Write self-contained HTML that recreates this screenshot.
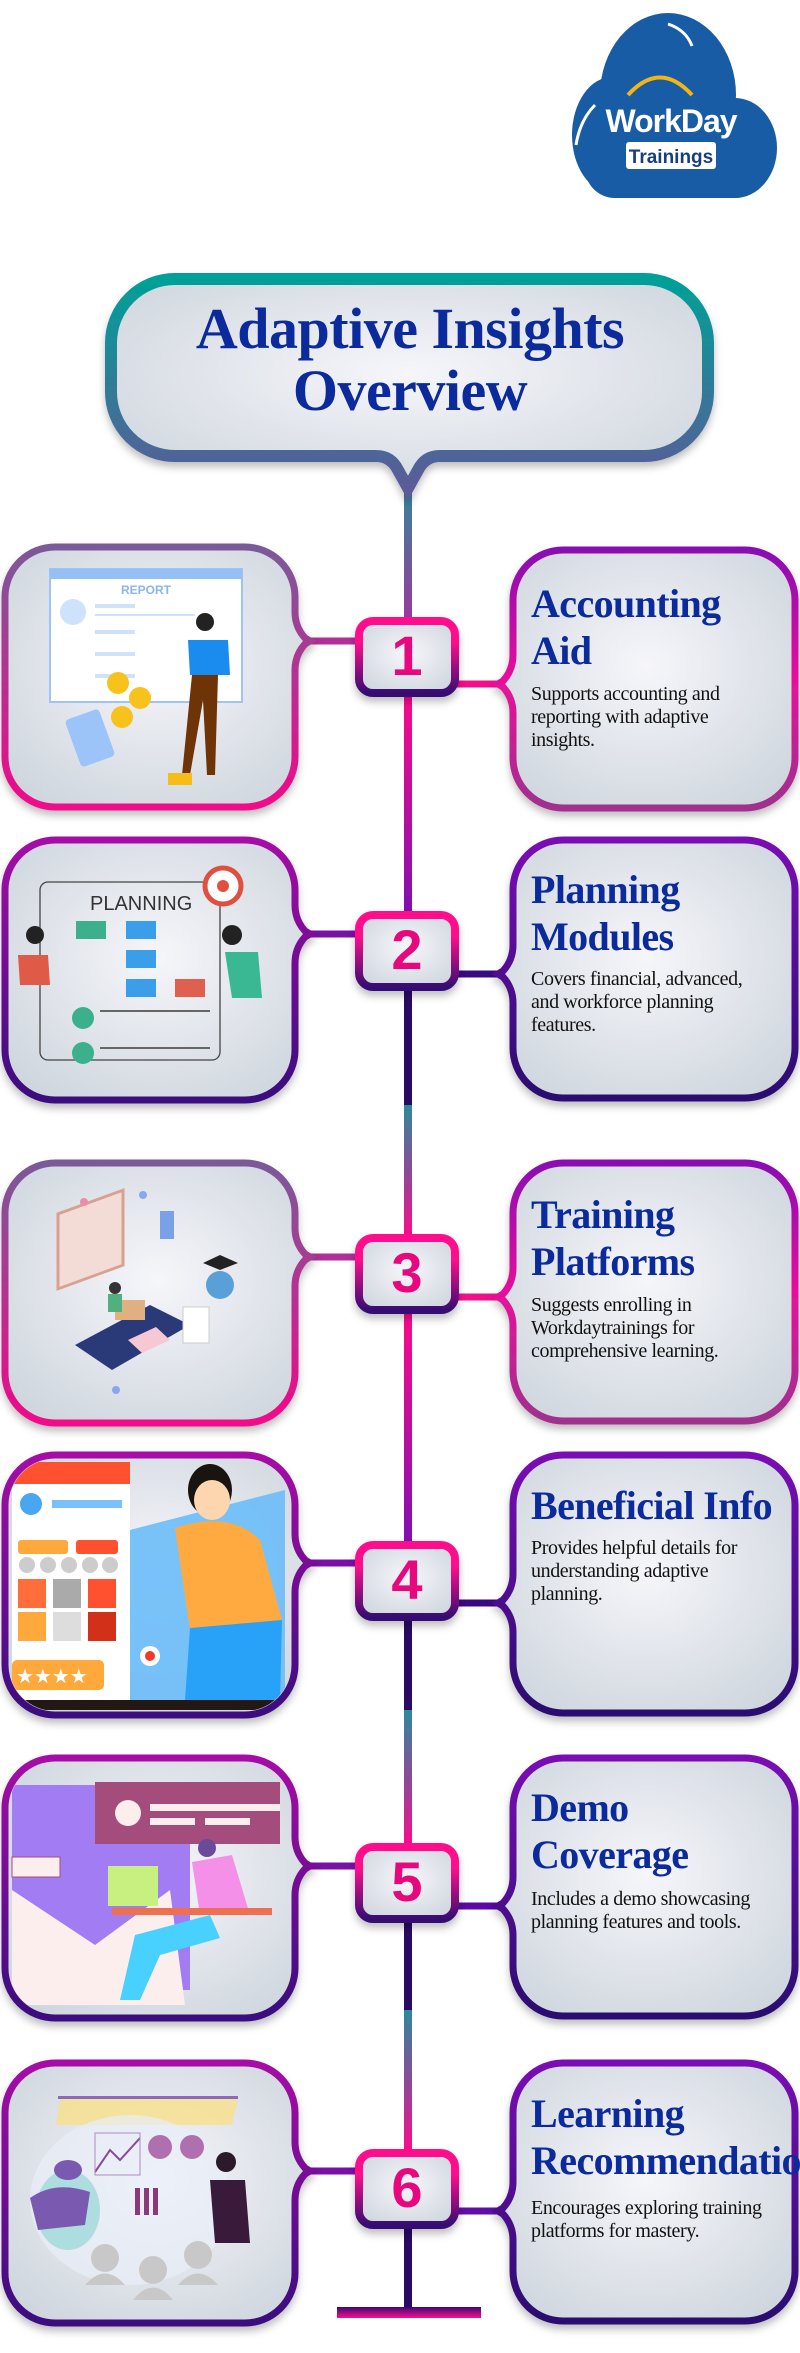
<!DOCTYPE html>
<html><head><meta charset="utf-8">
<style>
html,body{margin:0;padding:0;background:#fff;}
body{width:800px;height:2353px;position:relative;overflow:hidden;font-family:"Liberation Serif",serif;}
svg{position:absolute;left:0;top:0;}
.h{position:absolute;color:#0b2a9c;font-weight:bold;font-size:40px;line-height:47px;letter-spacing:-0.6px;white-space:nowrap;}
.b{position:absolute;color:#111;font-size:20px;line-height:23px;letter-spacing:-0.4px;width:240px;}
.t{position:absolute;left:105px;width:610px;text-align:center;color:#0b2a9c;font-weight:bold;font-size:58px;line-height:62px;top:298px;letter-spacing:-0.5px;}
.n{position:absolute;width:102px;text-align:center;font-family:"Liberation Sans",sans-serif;font-weight:bold;font-size:56px;color:#e8087e;}
</style></head><body>
<svg width="800" height="2353" viewBox="0 0 800 2353" xmlns="http://www.w3.org/2000/svg">
<defs>
<radialGradient id="fill" cx="50%" cy="45%" r="65%"><stop offset="0" stop-color="#f6f6fa"/><stop offset="1" stop-color="#cfd6de"/></radialGradient>
<linearGradient id="tb" x1="0" y1="0" x2="0" y2="1"><stop offset="0" stop-color="#00a098"/><stop offset="1" stop-color="#5c5a98"/></linearGradient>
<linearGradient id="gA" x1="0" y1="0" x2="0" y2="1"><stop offset="0" stop-color="#7a5a98"/><stop offset="1" stop-color="#f0088a"/></linearGradient>
<linearGradient id="gAr" x1="0" y1="0" x2="0" y2="1"><stop offset="0" stop-color="#8a0cb4"/><stop offset="0.5" stop-color="#e8109a"/><stop offset="1" stop-color="#a0308e"/></linearGradient>
<linearGradient id="gB" x1="0" y1="0" x2="0" y2="1"><stop offset="0" stop-color="#a60aa6"/><stop offset="1" stop-color="#3a0a7e"/></linearGradient>
<linearGradient id="gBr" x1="0" y1="0" x2="0" y2="1"><stop offset="0" stop-color="#7a10b4"/><stop offset="1" stop-color="#2a0870"/></linearGradient>
<linearGradient id="num" x1="0" y1="0" x2="0" y2="1"><stop offset="0.3" stop-color="#ff0a8c"/><stop offset="1" stop-color="#340a72"/></linearGradient>
<linearGradient id="l1" x1="0" y1="0" x2="0" y2="1"><stop offset="0" stop-color="#2e8a9a"/><stop offset="1" stop-color="#9a3a9e"/></linearGradient>
<linearGradient id="l2" x1="0" y1="0" x2="0" y2="1"><stop offset="0" stop-color="#ff0a8c"/><stop offset="1" stop-color="#8010b0"/></linearGradient>
<linearGradient id="l3" x1="0" y1="0" x2="0" y2="1"><stop offset="0" stop-color="#2e8a9a"/><stop offset="0.5" stop-color="#8a4a9a"/><stop offset="1" stop-color="#ff0a8c"/></linearGradient>
<linearGradient id="bar" x1="0" y1="0" x2="0" y2="1"><stop offset="0" stop-color="#3a0a78"/><stop offset="1" stop-color="#ff0a8c"/></linearGradient>
<filter id="sh" x="-10%" y="-10%" width="120%" height="125%"><feDropShadow dx="0" dy="5" stdDeviation="4" flood-color="#000" flood-opacity="0.25"/></filter>
<path id="LA" d="M50,0 H240 A50,50 0 0 1 290,50 V65 Q290,80 300,91 L305,94 L300,97 Q290,108 290,123 V210 A50,50 0 0 1 240,260 H50 A50,50 0 0 1 0,210 V50 A50,50 0 0 1 50,0 Z"/>
<path id="LB" d="M50,0 H240 A50,50 0 0 1 290,50 V79 Q290,94 300,105 L305,108 L300,111 Q290,122 290,137 V210 A50,50 0 0 1 240,260 H50 A50,50 0 0 1 0,210 V50 A50,50 0 0 1 50,0 Z"/>
<path id="RA" d="M50,0 H232 A50,50 0 0 1 282,50 V208 A50,50 0 0 1 232,258 H50 A50,50 0 0 1 0,208 V163 Q0,148 -10,137 L-15,134 L-10,131 Q0,120 0,105 V50 A50,50 0 0 1 50,0 Z"/>
<path id="RB" d="M50,0 H232 A50,50 0 0 1 282,50 V208 A50,50 0 0 1 232,258 H50 A50,50 0 0 1 0,208 V177 Q0,162 -10,151 L-15,148 L-10,145 Q0,134 0,119 V50 A50,50 0 0 1 50,0 Z"/>
<rect id="NB" x="0" y="0" width="96" height="72" rx="14"/>
<clipPath id="c4"><rect x="9" y="1459" width="282" height="252" rx="46"/></clipPath>
<clipPath id="c5"><rect x="9" y="1762" width="282" height="252" rx="46"/></clipPath>
<clipPath id="c6"><rect x="9" y="2067" width="282" height="252" rx="46"/></clipPath>
</defs>

<!-- logo -->
<g>
<ellipse cx="668" cy="95" rx="68" ry="82" fill="#175ca4"/>
<ellipse cx="612" cy="135" rx="40" ry="58" fill="#175ca4"/>
<ellipse cx="735" cy="148" rx="42" ry="50" fill="#175ca4"/>
<rect x="585" y="120" width="180" height="78" rx="30" fill="#175ca4"/>
<path d="M628,95 Q660,60 692,95" stroke="#f2b515" stroke-width="4" fill="none"/>
<path d="M668,24 Q686,30 692,46" stroke="#fff" stroke-width="3" fill="none"/>
<path d="M576,145 Q580,120 595,105" stroke="#fff" stroke-width="3" fill="none"/>
<text x="671" y="132" text-anchor="middle" font-family="Liberation Sans,sans-serif" font-size="32" font-weight="bold" fill="#fff" letter-spacing="-1">WorkDay</text>
<rect x="626" y="142" width="90" height="27" rx="3" fill="#fff"/>
<text x="671" y="163" text-anchor="middle" font-family="Liberation Sans,sans-serif" font-size="19" font-weight="bold" fill="#173f80">Trainings</text>
</g>

<!-- central line -->
<rect x="404" y="480" width="8" height="140" fill="url(#l1)"/>
<rect x="404" y="690" width="8" height="225" fill="url(#l2)"/>
<rect x="404" y="990" width="8" height="115" fill="#2a0a64"/>
<rect x="404" y="1105" width="8" height="132" fill="url(#l3)"/>
<rect x="404" y="1310" width="8" height="235" fill="url(#l2)"/>
<rect x="404" y="1615" width="8" height="95" fill="#2a0a64"/>
<rect x="404" y="1710" width="8" height="137" fill="url(#l3)"/>
<rect x="404" y="1915" width="8" height="95" fill="#2a0a64"/>
<rect x="404" y="2010" width="8" height="142" fill="url(#l3)"/>
<rect x="404" y="2225" width="8" height="88" fill="#2a0a64"/>
<rect x="337" y="2307" width="144" height="11" fill="url(#bar)"/>

<!-- title -->
<path d="M175,279 H644 A64,64 0 0 1 708,343 V392 A64,64 0 0 1 644,456 H440 Q425,456 418,470 L408,488 L398,470 Q391,456 376,456 H175 A64,64 0 0 1 111,392 V343 A64,64 0 0 1 175,279 Z" fill="url(#fill)" stroke="url(#tb)" stroke-width="12" filter="url(#sh)"/>

<!-- row connectors -->
<g stroke-width="7">
<line x1="300" y1="641" x2="360" y2="641" stroke="#b03098"/><line x1="455" y1="684" x2="505" y2="684" stroke="#f0108c"/>
<line x1="300" y1="934" x2="360" y2="934" stroke="#7a10a8"/><line x1="455" y1="974" x2="505" y2="974" stroke="#3a0a80"/>
<line x1="300" y1="1257" x2="360" y2="1257" stroke="#b03098"/><line x1="455" y1="1297" x2="505" y2="1297" stroke="#f0108c"/>
<line x1="300" y1="1563" x2="360" y2="1563" stroke="#7a10a8"/><line x1="455" y1="1603" x2="505" y2="1603" stroke="#3a0a80"/>
<line x1="300" y1="1866" x2="360" y2="1866" stroke="#7a10a8"/><line x1="455" y1="1906" x2="505" y2="1906" stroke="#5a0aa0"/>
<line x1="300" y1="2171" x2="360" y2="2171" stroke="#7a10a8"/><line x1="455" y1="2211" x2="505" y2="2211" stroke="#6010a8"/>
</g>

<!-- boxes -->
<g fill="url(#fill)" stroke-width="7" filter="url(#sh)">
<use href="#LA" transform="translate(5,547)" stroke="url(#gA)"/>
<use href="#RA" transform="translate(513,550)" stroke="url(#gAr)"/>
<use href="#LA" transform="translate(5,840)" stroke="url(#gB)"/>
<use href="#RA" transform="translate(513,840)" stroke="url(#gBr)"/>
<use href="#LA" transform="translate(5,1163)" stroke="url(#gA)"/>
<use href="#RA" transform="translate(513,1163)" stroke="url(#gAr)"/>
<use href="#LB" transform="translate(5,1455)" stroke="url(#gB)"/>
<use href="#RB" transform="translate(513,1455)" stroke="url(#gBr)"/>
<use href="#LB" transform="translate(5,1758)" stroke="url(#gB)"/>
<use href="#RB" transform="translate(513,1758)" stroke="url(#gBr)"/>
<use href="#LB" transform="translate(5,2063)" stroke="url(#gB)"/>
<use href="#RB" transform="translate(513,2063)" stroke="url(#gBr)"/>
</g>
<g fill="url(#fill)" stroke="url(#num)" stroke-width="8" filter="url(#sh)">
<use href="#NB" transform="translate(359,621)"/>
<use href="#NB" transform="translate(359,915)"/>
<use href="#NB" transform="translate(359,1238)"/>
<use href="#NB" transform="translate(359,1545)"/>
<use href="#NB" transform="translate(359,1847)"/>
<use href="#NB" transform="translate(359,2153)"/>
</g>

<!-- illus 1 -->
<g>
<rect x="50" y="569" width="192" height="133" fill="#fff" stroke="#9cc4f8" stroke-width="2"/>
<rect x="50" y="569" width="192" height="10" fill="#94c0f6"/>
<text x="146" y="594" text-anchor="middle" font-family="Liberation Sans,sans-serif" font-size="12" font-weight="bold" fill="#8ab6f0">REPORT</text>
<circle cx="73" cy="612" r="13" fill="#cfe2fb"/>
<rect x="95" y="604" width="40" height="4" fill="#cfe2fb"/><rect x="95" y="614" width="100" height="2" fill="#cfe2fb"/>
<rect x="95" y="630" width="40" height="4" fill="#cfe2fb"/><rect x="95" y="652" width="40" height="4" fill="#cfe2fb"/><rect x="95" y="674" width="40" height="4" fill="#cfe2fb"/>
<rect x="72" y="713" width="36" height="50" rx="4" fill="#9cc4f8" transform="rotate(-20 90 738)"/>
<circle cx="118" cy="683" r="11" fill="#f7c21c"/><circle cx="140" cy="698" r="11" fill="#f7c21c"/><circle cx="122" cy="717" r="11" fill="#f7c21c"/>
<circle cx="205" cy="622" r="9" fill="#222"/>
<path d="M188,640 L228,640 L230,675 L190,675 Z" fill="#1a8cf0"/>
<path d="M192,675 L218,675 L215,775 L207,775 L203,700 L190,775 L182,775 Z" fill="#6e3408"/>
<rect x="168" y="773" width="24" height="12" fill="#f6bd18"/>
</g>
<!-- illus 2 -->
<g>
<rect x="40" y="882" width="180" height="178" rx="8" fill="none" stroke="#444" stroke-width="1.3"/>
<text x="90" y="910" font-family="Liberation Sans,sans-serif" font-size="20" fill="#333">PLANNING</text>
<circle cx="223" cy="886" r="18" fill="#fff" stroke="#e05040" stroke-width="5"/><circle cx="223" cy="886" r="6" fill="#e05040"/>
<rect x="76" y="921" width="30" height="18" fill="#3cb08c"/><rect x="126" y="921" width="30" height="18" fill="#3a9ee8"/>
<rect x="126" y="950" width="30" height="18" fill="#3a9ee8"/><rect x="126" y="979" width="30" height="18" fill="#3a9ee8"/><rect x="175" y="979" width="30" height="18" fill="#e06050"/>
<circle cx="83" cy="1018" r="11" fill="#3cb08c"/><circle cx="83" cy="1053" r="11" fill="#3cb08c"/>
<rect x="100" y="1010" width="110" height="2" fill="#666"/><rect x="100" y="1047" width="110" height="2" fill="#666"/>
<path d="M18,955 L48,955 L50,985 L20,985 Z" fill="#e05a48"/><circle cx="35" cy="935" r="9" fill="#222"/>
<path d="M225,952 L258,952 L262,998 L232,998 Z" fill="#3ab894"/><circle cx="232" cy="935" r="10" fill="#222"/>
</g>
<!-- illus 3 -->
<g>
<rect x="58" y="1210" width="65" height="75" fill="#f3dcd6" stroke="#d9a090" stroke-width="3" transform="skewY(-20) translate(0,25)"/>
<path d="M75,1345 L150,1305 L190,1325 L112,1370 Z" fill="#2a3a78"/>
<rect x="115" y="1300" width="30" height="20" fill="#e0b080"/>
<circle cx="115" cy="1288" r="6" fill="#333"/><rect x="108" y="1294" width="14" height="18" fill="#50b080"/>
<rect x="160" y="1211" width="14" height="28" fill="#7aa0e8"/>
<circle cx="220" cy="1285" r="14" fill="#5aa0d8"/><path d="M203,1263 L220,1255 L238,1263 L220,1270 Z" fill="#222"/>
<rect x="183" y="1307" width="26" height="36" fill="#fff" stroke="#ccc"/>
<path d="M128,1340 L156,1327 L170,1340 L142,1353 Z" fill="#f6c8d4"/>
<circle cx="84" cy="1202" r="4" fill="#f08aa8"/><circle cx="143" cy="1195" r="4" fill="#8aa6f0"/><circle cx="116" cy="1390" r="4" fill="#8aa6f0"/>
</g>
<!-- illus 4 -->
<g clip-path="url(#c4)">
<path d="M130,1530 L285,1490 L285,1700 L12,1700 L12,1700 L130,1700 Z" fill="#6abcf8" opacity="0.9"/>
<rect x="12" y="1482" width="118" height="218" fill="#fff"/>
<rect x="12" y="1462" width="118" height="22" fill="#ff5030"/>
<circle cx="31" cy="1504" r="11" fill="#49a6f0"/>
<rect x="52" y="1500" width="70" height="8" fill="#7cc0f8"/>
<rect x="18" y="1540" width="50" height="14" rx="3" fill="#ffa83c"/><rect x="76" y="1540" width="42" height="14" rx="3" fill="#ff5030"/>
<circle cx="27" cy="1565" r="8" fill="#ccc"/><circle cx="48" cy="1565" r="8" fill="#ccc"/><circle cx="69" cy="1565" r="8" fill="#ccc"/><circle cx="90" cy="1565" r="8" fill="#ccc"/><circle cx="110" cy="1565" r="8" fill="#ccc"/>
<rect x="18" y="1579" width="28" height="29" fill="#ff6d3a"/><rect x="53" y="1579" width="28" height="29" fill="#aaa"/><rect x="88" y="1579" width="28" height="29" fill="#ff5030"/>
<rect x="18" y="1612" width="28" height="29" fill="#ffa83c"/><rect x="53" y="1612" width="28" height="29" fill="#ddd"/><rect x="88" y="1612" width="28" height="29" fill="#d23018"/>
<rect x="12" y="1660" width="92" height="30" rx="5" fill="#ffa83c"/>
<text x="16" y="1683" font-size="20" fill="#fff">★★★★</text>
<path d="M175,1528 Q230,1510 260,1540 L282,1620 L190,1630 Z" fill="#ffaa40"/>
<ellipse cx="210" cy="1490" rx="22" ry="26" fill="#1a1410"/><ellipse cx="212" cy="1500" rx="18" ry="20" fill="#fdd6b0"/>
<path d="M190,1628 L282,1620 L280,1700 L185,1700 Z" fill="#28a2f8"/>
<rect x="12" y="1700" width="280" height="10" fill="#231814"/>
<circle cx="150" cy="1656" r="10" fill="#fff"/><circle cx="150" cy="1656" r="5" fill="#f03a2a"/>
</g>
<!-- illus 5 -->
<g clip-path="url(#c5)">
<path d="M12,1785 L190,1785 L190,1990 L12,1990 Z" fill="#a27cf2"/>
<path d="M12,1890 L95,1945 L170,1890 L185,2005 L12,2005 Z" fill="#fdeeee"/>
<rect x="95" y="1782" width="185" height="62" fill="#a44c7c"/>
<circle cx="128" cy="1813" r="13" fill="#fdeeee"/>
<rect x="150" y="1804" width="130" height="7" fill="#fdeeee"/><rect x="150" y="1818" width="45" height="7" fill="#fdeeee"/><rect x="205" y="1818" width="45" height="7" fill="#fdeeee"/>
<rect x="12" y="1857" width="48" height="20" fill="#fdeeee" stroke="#a44c7c"/>
<rect x="108" y="1866" width="50" height="40" fill="#c8f080"/>
<path d="M192,1862 L232,1855 L250,1915 L200,1915 Z" fill="#f490e8"/>
<circle cx="207" cy="1848" r="9" fill="#6a4a9a"/>
<rect x="112" y="1908" width="160" height="7" fill="#ee7050"/>
<path d="M135,1935 L210,1915 L220,1938 L160,1955 L140,2000 L120,2000 Z" fill="#48d0ff"/>
</g>
<!-- illus 6 -->
<g clip-path="url(#c6)">
<rect x="58" y="2096" width="180" height="3" fill="#8a6ac0"/>
<path d="M60,2099 L238,2099 L232,2125 L56,2125 Z" fill="#f8e08a" opacity="0.8"/>
<ellipse cx="130" cy="2200" rx="100" ry="85" fill="#e8eef8" opacity="0.7"/>
<path d="M95,2172 L110,2150 L120,2160 L140,2138" stroke="#8a4a9a" stroke-width="2" fill="none"/>
<rect x="95" y="2133" width="45" height="42" fill="none" stroke="#b08ac0"/>
<circle cx="160" cy="2147" r="12" fill="#b070b0"/><circle cx="192" cy="2147" r="12" fill="#b070b0"/>
<rect x="135" y="2188" width="5" height="27" fill="#8a3a7a"/><rect x="144" y="2188" width="5" height="27" fill="#8a3a7a"/><rect x="153" y="2188" width="5" height="27" fill="#8a3a7a"/>
<ellipse cx="68" cy="2210" rx="32" ry="40" fill="#aedde0"/>
<path d="M30,2198 Q55,2180 90,2192 L85,2225 L38,2230 Z" fill="#7a5ab0"/>
<ellipse cx="68" cy="2170" rx="14" ry="10" fill="#7a5ab0"/>
<circle cx="226" cy="2162" r="10" fill="#2a1a2a"/>
<path d="M210,2180 L245,2180 L250,2243 L215,2243 Z" fill="#3a1a3a"/>
<circle cx="105" cy="2258" r="14" fill="#c8c8c8"/><path d="M85,2285 Q105,2262 125,2285 Z" fill="#c8c8c8"/>
<circle cx="153" cy="2270" r="14" fill="#c8c8c8"/><path d="M133,2300 Q153,2275 173,2300 Z" fill="#c8c8c8"/>
<circle cx="198" cy="2255" r="14" fill="#c8c8c8"/><path d="M178,2285 Q198,2262 218,2285 Z" fill="#c8c8c8"/>
</g>
</svg>

<div class="t">Adaptive Insights<br>Overview</div>

<div class="n" style="left:356px;top:623px;">1</div>
<div class="n" style="left:356px;top:917px;">2</div>
<div class="n" style="left:356px;top:1240px;">3</div>
<div class="n" style="left:356px;top:1547px;">4</div>
<div class="n" style="left:356px;top:1849px;">5</div>
<div class="n" style="left:356px;top:2155px;">6</div>

<div class="h" style="left:531px;top:580px;">Accounting<br>Aid</div>
<div class="b" style="left:531px;top:683px;">Supports accounting and reporting with adaptive insights.</div>

<div class="h" style="left:531px;top:866px;">Planning<br>Modules</div>
<div class="b" style="left:531px;top:968px;">Covers financial, advanced, and workforce planning features.</div>

<div class="h" style="left:531px;top:1191px;">Training<br>Platforms</div>
<div class="b" style="left:531px;top:1294px;">Suggests enrolling in Workdaytrainings for comprehensive learning.</div>

<div class="h" style="left:531px;top:1482px;">Beneficial Info</div>
<div class="b" style="left:531px;top:1537px;">Provides helpful details for understanding adaptive planning.</div>

<div class="h" style="left:531px;top:1784px;">Demo<br>Coverage</div>
<div class="b" style="left:531px;top:1888px;">Includes a demo showcasing planning features and tools.</div>

<div class="h" style="left:531px;top:2090px;">Learning<br>Recommendations</div>
<div class="b" style="left:531px;top:2197px;">Encourages exploring training platforms for mastery.</div>
</body></html>
